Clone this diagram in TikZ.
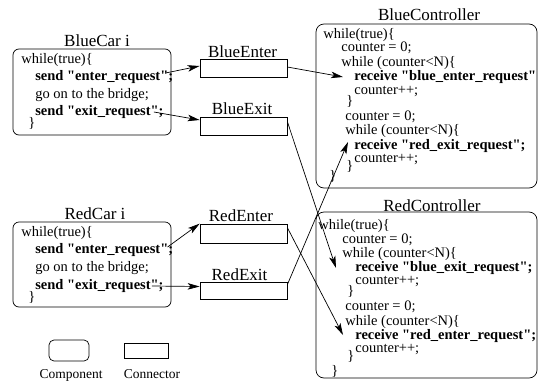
\documentclass[tikz,border=0pt]{standalone}
\usepackage{fontspec}
\setmainfont{Liberation Serif}[Ligatures=TeXOff]
\usetikzlibrary{arrows.meta}
\begin{document}
\begin{tikzpicture}[x=1pt,y=-1pt,
  every path/.style={line width=0.7pt},
  compbox/.style={draw, rounded corners=6pt, inner sep=0pt},
  connbox/.style={draw, rectangle, inner sep=0pt},
  title/.style={anchor=base, inner sep=0pt, font=\fontsize{17}{17}\selectfont},
  legend/.style={anchor=base, inner sep=0pt, font=\fontsize{13.5}{13.5}\selectfont},
  code/.style={anchor=west, inner sep=0pt, text height=9pt, text depth=2.5pt, font=\fontsize{14.5}{14.5}\selectfont},
  bcode/.style={code, font=\fontsize{14.5}{14.5}\selectfont\bfseries},
  arr/.style={-{Stealth[length=12pt,width=6.5pt,inset=3pt]}}
]
\useasboundingbox (0,0) rectangle (540,383);

% components
\node[compbox, minimum width=158pt, minimum height=86pt] (bluecar) at (92,92) {};
\node[compbox, minimum width=158pt, minimum height=85pt] (redcar) at (92,264.5) {};
\node[compbox, rounded corners=8pt, minimum width=221pt, minimum height=164pt] (bctrl) at (426.5,106) {};
\node[compbox, rounded corners=8pt, minimum width=221pt, minimum height=166pt] (rctrl) at (426.5,295) {};

% connectors
\node[connbox, minimum width=87pt, minimum height=18pt] (benter) at (243.5,68) {};
\node[connbox, minimum width=87pt, minimum height=18pt] (bexit) at (243.5,126) {};
\node[connbox, minimum width=87pt, minimum height=19pt] (renter) at (243.5,233.5) {};
\node[connbox, minimum width=87pt, minimum height=17pt] (rexit) at (243.5,290.5) {};

% titles
\node[title] (tbluecar) at (97,46) {BlueCar i};
\node[title] (tredcar) at (95,219) {RedCar i};
\node[title] (tbenter) at (242.5,57) {BlueEnter};
\node[title] (tbexit) at (242,114) {BlueExit};
\node[title] (trenter) at (241,221) {RedEnter};
\node[title] (trexit) at (239.5,280) {RedExit};
\node[title] (tbctrl) at (429,20) {BlueController};
\node[title] (trctrl) at (432,211) {RedController};

% BlueCar code
\node[code] (bc1) at (21,60) {while(true)\{};
\node[bcode] (bc2) at (35,77) {send "enter\_request";};
\node[code] (bc3) at (35,95) {go on to the bridge;};
\node[bcode] (bc4) at (35,112) {send "exit\_request";};
\node[code] (bc5) at (28,124) {\}};

% RedCar code
\node[code] (rc1) at (21,233) {while(true)\{};
\node[bcode] (rc2) at (35,250) {send "enter\_request";};
\node[code] (rc3) at (35,268) {go on to the bridge;};
\node[bcode] (rc4) at (35,286) {send "exit\_request";};
\node[code] (rc5) at (28,298) {\}};

% BlueController code
\node[code] (bk1) at (323,35) {while(true)\{};
\node[code] (bk2) at (341,48) {counter = 0;};
\node[code] (bk3) at (341,63) {while (counter<N)\{};
\node[bcode] (bk4) at (354,77) {receive "blue\_enter\_request"};
\node[code] (bk5) at (354,91) {counter++;};
\node[code] (bk6) at (346,102) {\}};
\node[code] (bk7) at (345,117) {counter = 0;};
\node[code] (bk8) at (345,131) {while (counter<N)\{};
\node[bcode] (bk9) at (354,146) {receive "red\_exit\_request";};
\node[code] (bk10) at (354,159) {counter++;};
\node[code] (bk11) at (346,167) {\}};
\node[code] (bk12) at (329,177) {\}};

% RedController code
\node[code] (rk1) at (318,226) {while(true)\{};
\node[code] (rk2) at (342,240) {counter = 0;};
\node[code] (rk3) at (342,254) {while (counter<N)\{};
\node[bcode] (rk4) at (355,268) {receive "blue\_exit\_request";};
\node[code] (rk5) at (355,281) {counter++;};
\node[code] (rk6) at (347,292) {\}};
\node[code] (rk7) at (345,307) {counter = 0;};
\node[code] (rk8) at (345,322) {while (counter<N)\{};
\node[bcode] (rk9) at (355,336) {receive "red\_enter\_request";};
\node[code] (rk10) at (355,349) {counter++;};
\node[code] (rk11) at (347,357) {\}};
\node[code] (rk12) at (331,372) {\}};

% legend
\node[compbox, rounded corners=5pt, minimum width=40pt, minimum height=21pt] (lcomp) at (69,350.5) {};
\node[connbox, minimum width=44pt, minimum height=15pt] (lconn) at (146,350.5) {};
\node[legend] (tlcomp) at (71,378) {Component};
\node[legend] (tlconn) at (152,378) {Connector};

% connections
\draw[arr] ([xshift=-8pt,yshift=4pt]bc2.east) -- ([yshift=2pt]benter.west);
\draw[arr] ([xshift=-10pt]bc4.east) -- ([yshift=6pt]bexit.west);
\draw[arr] ([yshift=1pt]benter.east) -- ([xshift=-11pt,yshift=0pt]bk4.west);
\draw[arr] ([yshift=-5pt]bexit.north east) -- ([xshift=-19pt]rk4.west);
\draw[arr] ([yshift=-3pt]rexit.north east) -- ([xshift=-6pt,yshift=4pt]bk9.west);
\draw[arr] ([yshift=-4pt]renter.north east) -- ([xshift=-12pt,yshift=1pt]rk9.west);
\draw[arr] ([xshift=-6pt,yshift=3pt]rc2.east) -- (renter.north west);
\draw[arr] ([xshift=-12pt]rc4.east) -- ([yshift=4pt]rexit.west);
\end{tikzpicture}
\end{document}
